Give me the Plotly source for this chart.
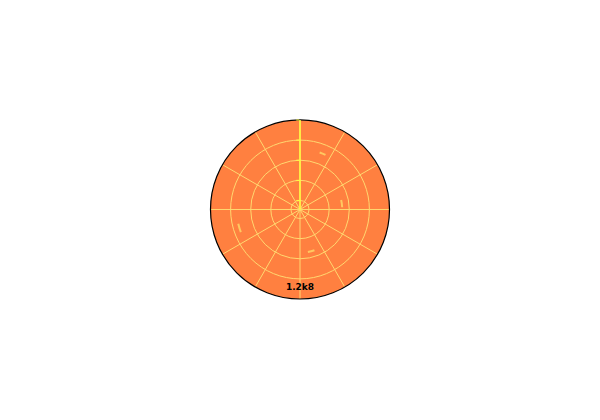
import plotly.graph_objects as go

# small arc-shaped bar fragments (theta in degrees, base radius, thickness, width)
seg_theta = [68, 8, 197, 285]
seg_base = [3.5, 2.6, 3.65, 2.65]
seg_len = [0.1, 0.1, 0.1, 0.1]
seg_width = [6, 10, 8, 9]

label_r = [4.45]
label_theta = [270]
label_text = ["<b>1.2k8</b>"]

ORANGE = "#FF8040"
GRID = "#FFD870"

fig = go.Figure()
fig.add_trace(go.Barpolar(
    r=seg_len, base=seg_base, theta=seg_theta, width=seg_width,
    marker=dict(color="#FFC860", line=dict(width=0)),
    hoverinfo="skip", showlegend=False,
))
fig.add_trace(go.Scatterpolar(
    r=label_r, theta=label_theta, text=label_text, mode="text",
    textfont=dict(family="DejaVu Sans", size=9, color="black"),
    showlegend=False,
))
dx = 8 / 600
dy = 7.5 / 420
fig.update_layout(
    width=600, height=420,
    margin=dict(l=0, r=0, t=0, b=0),
    paper_bgcolor="white",
    showlegend=False,
    polar=dict(
        domain=dict(x=[0.3508 - dx, 0.6492 - dx], y=[0.2893 + dy, 0.7155 + dy]),
        bgcolor=ORANGE,
        radialaxis=dict(
            range=[0.55, 5], dtick=1, angle=90, showticklabels=False,
            showline=True, linecolor="#FFFF40", linewidth=1.5,
            gridcolor=GRID, gridwidth=1, ticks="inside", ticklen=3,
            tickcolor="#FFFF40",
        ),
        angularaxis=dict(
            dtick=30, showticklabels=False, ticks="",
            showline=True, linecolor="black", linewidth=1.2,
            gridcolor=GRID, gridwidth=1,
        ),
    ),
)
fig.write_html("out.html")
